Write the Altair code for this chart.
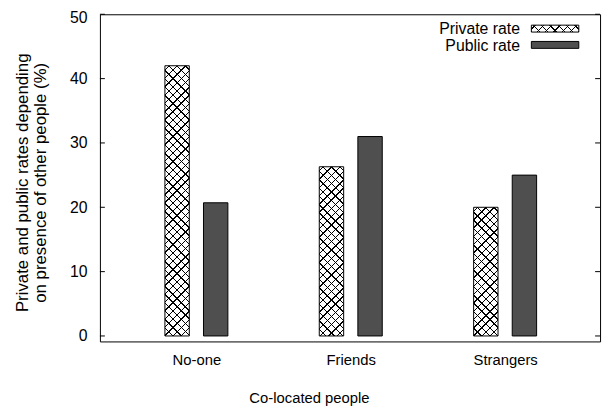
import json
import altair as alt
import pandas as pd

# ---------------- data ----------------
categories = ["No-one", "Friends", "Strangers"]
private_rate = [42.0, 26.3, 20.0]
public_rate = [20.7, 31.0, 25.0]
series = ["Private rate", "Public rate"]
y_ticks = [0, 10, 20, 30, 40, 50]

# ---------------- layout / style ----------------
W, H = 506, 331
XDOM = [-0.625, 2.615]
YDOM = [-0.85, 50]
PXX = W / (XDOM[1] - XDOM[0])
PXY = H / (YDOM[1] - YDOM[0])
OFF = 0.125      # bar offset from category centre (x units)
HALF = 0.079     # half bar width (x units)
PERIOD = 8.4     # hatch period (px)
LINEW = 1.4      # hatch line width (px, along x+y)
FONT = "Liberation Sans"
DARK = "#4f4f4f"

rows = []
for i, c in enumerate(categories):
    rows.append(dict(cat=c, series=series[0], x=i - OFF - HALF, x2=i - OFF + HALF, v=private_rate[i]))
    rows.append(dict(cat=c, series=series[1], x=i + OFF - HALF, x2=i + OFF + HALF, v=public_rate[i]))
df = pd.DataFrame(rows)


def hatch(w, h, flip):
    s = w + h
    t = s / (w * w + h * h)
    if flip:
        x1, y1, x2, y2 = 1.0, 0.0, 1.0 - t * w, t * h
    else:
        x1, y1, x2, y2 = 0.0, 0.0, t * w, t * h
    T = "rgba(0,0,0,0)"
    K = "#000000"
    d = LINEW / 2 / s
    stops = [alt.GradientStop(color=T, offset=0)]
    c = PERIOD / 2
    while c < s:
        a = max(c / s - d, 0.0)
        b = min(c / s + d, 1.0)
        stops += [alt.GradientStop(color=T, offset=a), alt.GradientStop(color=K, offset=a),
                  alt.GradientStop(color=K, offset=b), alt.GradientStop(color=T, offset=b)]
        c += PERIOD
    stops.append(alt.GradientStop(color=T, offset=1))
    return alt.LinearGradient(gradient="linear", stops=stops, x1=x1, y1=y1, x2=x2, y2=y2)


label_expr = json.dumps(categories) + "[datum.value]"

xenc = alt.X("x:Q", scale=alt.Scale(domain=XDOM, nice=False, zero=False),
             axis=alt.Axis(values=[0, 1, 2], labelExpr=label_expr, tickSize=0, ticks=False,
                           domain=False, grid=False, labelPadding=23, labelBaseline="alphabetic",
                           labelFontSize=15, title="Co-located people", titleFontSize=15,
                           titleX=211.5, titleY=62, titleAlign="center",
                           titleBaseline="alphabetic", titleAnchor="start"))
yscale = alt.Scale(domain=YDOM, nice=False, zero=False)
yaxis = alt.Axis(values=y_ticks, tickSize=0, ticks=False, domain=False, grid=False,
                 labelPadding=13, labelFontSize=16,
                 labelOffset=alt.condition(alt.datum.value == max(y_ticks), alt.value(3.5), alt.value(0)),
                 title=["Private and public rates depending", "on presence of other people (%)"],
                 titleFontSize=17, titleLineHeight=18, titleX=-73, titleY=170,
                 titleAlign="center", titleBaseline="alphabetic", titleAngle=270,
                 titleAnchor="start")

base = alt.Chart(df).encode(x=xenc, x2="x2:Q",
                            y=alt.Y("v:Q", scale=yscale, axis=yaxis), y2=alt.datum(0))

layers = []
priv = base.transform_filter(alt.datum.series == series[0])
layers.append(priv.mark_rect(fill="white", stroke=None))
for i, c in enumerate(categories):
    w = 2 * HALF * PXX
    h = private_rate[i] * PXY
    for flip in (False, True):
        layers.append(
            base.transform_filter((alt.datum.series == series[0]) & (alt.datum.cat == c))
            .mark_rect(fill=hatch(w, h, flip), stroke=None)
        )
layers.append(priv.mark_rect(fill=None, filled=False, stroke="black", strokeWidth=1))
layers.append(base.transform_filter(alt.datum.series == series[1])
              .mark_rect(fill=DARK, stroke="black", strokeWidth=1))

# inward ticks (left and mirrored right)
tick_df = pd.DataFrame({"v": y_ticks})
tick_base = alt.Chart(tick_df).encode(y=alt.Y("v:Q", scale=yscale, axis=yaxis))
layers.append(tick_base.mark_rule(color="black", strokeWidth=1).encode(x=alt.value(0), x2=alt.value(5)))
layers.append(tick_base.mark_rule(color="black", strokeWidth=1).encode(x=alt.value(W - 5), x2=alt.value(W)))

# legend (gnuplot style: text right-aligned, swatch to the right)
LX_TEXT = 425
SX1, SX2 = 436.5, 484.5
legend_rows = [(series[0], 19.5, 11.0, 18.0), (series[1], 37.0, 27.5, 34.5)]
for k, (name, ty, sy1, sy2) in enumerate(legend_rows):
    ld = pd.DataFrame({"s": [name]})
    layers.append(alt.Chart(ld).mark_text(align="right", baseline="alphabetic", font=FONT,
                                          fontSize=16, color="black")
                  .encode(text="s:N", x=alt.value(LX_TEXT), y=alt.value(ty)))
    sw = alt.Chart(ld).encode(x=alt.value(SX1), x2=alt.value(SX2), y=alt.value(sy1), y2=alt.value(sy2))
    if k == 0:
        layers.append(sw.mark_rect(fill="white"))
        for flip in (False, True):
            layers.append(sw.mark_rect(fill=hatch(SX2 - SX1, sy2 - sy1, flip)))
        layers.append(sw.mark_rect(filled=False, fill=None, stroke="black", strokeWidth=1))
    else:
        layers.append(sw.mark_rect(fill=DARK, stroke="black", strokeWidth=1))

chart = (
    alt.layer(*layers)
    .properties(width=W, height=H, autosize="none",
                padding={"left": 93, "top": 4, "right": 5, "bottom": 65})
    .configure_view(stroke="black", strokeWidth=1)
    .configure_axis(labelFont=FONT, titleFont=FONT, labelColor="black", titleColor="black",
                    titleFontWeight="normal")
    .configure_text(font=FONT)
)

chart.save("out.html", embed_options={"renderer": "svg", "actions": False})
